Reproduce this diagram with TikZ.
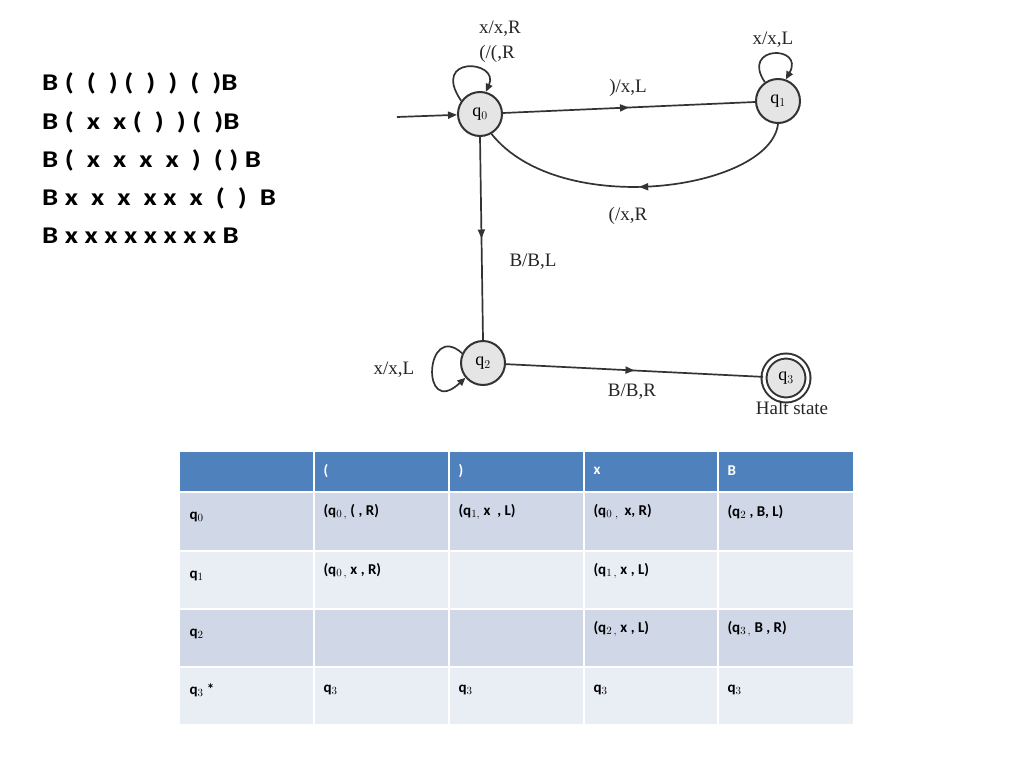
\documentclass[tikz,border=0pt]{standalone}
\usepackage{fontspec}
\setmainfont{Liberation Serif}
\newfontfamily\carl{Carlito}
\usetikzlibrary{decorations.markings,arrows.meta}
\definecolor{hdr}{HTML}{4F81BD}
\definecolor{rowa}{HTML}{D0D8E8}
\definecolor{rowb}{HTML}{E9EDF4}
\begin{document}
\begin{tikzpicture}[x=1pt,y=-1pt,
  st/.style={circle,draw=black!80,line width=2pt,fill=black!10,minimum size=44pt,inner sep=0pt,font=\fontsize{18}{18}\selectfont},
  ed/.style={line width=1.7pt,draw=black!80},
  mid/.style={postaction={decorate},decoration={markings,mark=at position #1 with {\arrow{Triangle[length=9pt,width=7pt]}}}},
  lb/.style={font=\fontsize{19}{19}\selectfont,text=black!85},
  tx/.style={font=\carl\bfseries\fontsize{15}{15}\selectfont,anchor=west},
  lt/.style={font=\carl\bfseries\fontsize{24}{24}\selectfont,anchor=west,xscale=1.2,transform shape}]
\useasboundingbox[fill=white] (0,0) rectangle (1024,768);
% left text
\node[lt] (t1) at (38,83) {B ( \ ( \ ) ( \ ) \ ) \ ( \ )B};
\node[lt] (t2) at (38,122) {B ( \ x \ x ( \ ) \ ) ( \ )B};
\node[lt] (t3) at (38,160) {B ( \ x \ x \ x \ x \ ) \ ( ) B};
\node[lt] (t4) at (38,198) {B x \ x \ x \ x x \ x \ ( \ ) \ B};
\node[lt] (t5) at (38,236) {B x x x x x x x x B};
% states
\node[st] (q0) at (480,114) {q$_0$};
\node[st] (q1) at (778,101) {q$_1$};
\node[st] (q2) at (483,363) {q$_2$};
\node[st,double,double distance=3pt] (q3) at (786,378) {q$_3$};
\coordinate (s) at (397,117);
\draw[ed,-{Triangle[length=9pt,width=7pt]}] (s) -- (q0);
\draw[ed,mid=0.5] (q0) -- (q1);
\draw[ed,mid=0.5] (q1.south) .. controls (770,190) and (560,220) .. (q0.-60);
\draw[ed,mid=0.5] (q0.south) -- (q2.north);
\draw[ed,mid=0.5] (q2) -- (q3);
\draw[ed,-{Triangle[length=8pt,width=7pt]}] (q0.145) .. controls (430,55) and (500,60) .. (q0.75);
\draw[ed,-{Triangle[length=8pt,width=7pt]}] (q1.125) .. controls (740,45) and (805,45) .. (q1.70);
\draw[ed,-{Triangle[length=8pt,width=7pt]}] (q2.155) .. controls (425,320) and (420,420) .. (q2.220);
\node[lb] (l1) at (500,29) {x/x,R};
\node[lb] (l2) at (497,54) {(/(,R};
\node[lb] (l3) at (773,40) {x/x,L};
\node[lb] (l4) at (628,88) {)/x,L};
\node[lb] (l5) at (628,216) {(/x,R};
\node[lb] (l6) at (533,262) {B/B,L};
\node[lb] (l7) at (394,370) {x/x,L};
\node[lb] (l8) at (632,392) {B/B,R};
\node[lb] (l9) at (792,408) {Halt state};
% table
\fill[hdr] (180,452) rectangle (853,491);
\fill[rowa] (180,493) rectangle (853,550);
\fill[rowb] (180,552) rectangle (853,608);
\fill[rowa] (180,610) rectangle (853,666);
\fill[rowb] (180,668) rectangle (853,724);
\foreach \x in {314,449,584,718}{\draw[white,line width=2pt] (\x,452) -- (\x,724);}
\foreach \y in {492,551,609,667}{\draw[white,line width=2pt] (180,\y) -- (853,\y);}
\begin{scope}[every node/.style={tx}]
\node[text=white] (h1) at (320,471) {(};
\node[text=white] (h2) at (455,471) {)};
\node[text=white] (h3) at (590,471) {x};
\node[text=white] (h4) at (724,471) {B};
\node (a0) at (186,517) {q$_0$};
\node (a1) at (320,512) {(q$_{0\,,}$ ( , R)};
\node (a2) at (455,512) {(q$_{1,}$ x \ , L)};
\node (a3) at (590,512) {(q$_{0\ ,}$ \,x, R)};
\node (a4) at (724,512) {(q$_2$ , B, L)};
\node (b0) at (186,576) {q$_1$};
\node (b1) at (320,571) {(q$_{0\,,}$ x , R)};
\node (b3) at (590,571) {(q$_{1\,,}$ x , L)};
\node (c0) at (186,634) {q$_2$};
\node (c3) at (590,629) {(q$_{2\,,}$ x , L)};
\node (c4) at (724,629) {(q$_{3\,,}$ B , R)};
\node (d0) at (186,690) {q$_3$ *};
\node (d1) at (320,690) {q$_3$};
\node (d2) at (455,690) {q$_3$};
\node (d3) at (590,690) {q$_3$};
\node (d4) at (724,690) {q$_3$};
\end{scope}
\end{tikzpicture}
\end{document}
